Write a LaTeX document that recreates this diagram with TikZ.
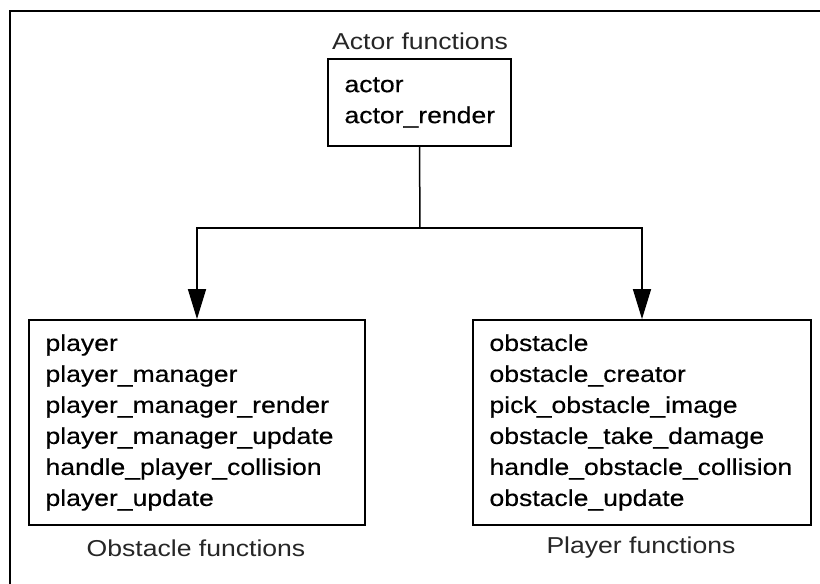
\documentclass[tikz,border=0pt]{standalone}
\usepackage{fontspec}
\setmainfont{Liberation Sans}[FakeStretch=1.155]
\newfontfamily\boxfont{Liberation Sans}[FakeStretch=1.155, FakeBold=0.4]
\usetikzlibrary{arrows.meta}
\tikzset{
  funcbox/.style={draw, line width=1.8pt, inner xsep=16.5pt, align=left, font=\boxfont\fontsize{23}{31}\selectfont},
  grouplbl/.style={text=black!85, font=\fontsize{23}{26}\selectfont},
  link/.style={line width=1.5pt}
}
\begin{document}
\begin{tikzpicture}[>={Triangle[width=18pt,length=30pt]}, x=1pt, y=-1pt]
  \useasboundingbox (0,0) rectangle (820,584);
  \fill[white] (0,0) rectangle (820,584);
  % outer frame
  \draw[line width=2pt] (10,590) -- (10,11) -- (830,11);
  % boxes
  \node[funcbox, text width=150pt, minimum height=87pt] (actor) at (419.5,102.5) {actor\\actor\_render};
  \node[funcbox, text width=303pt, minimum height=205pt] (obst) at (197,422.5) {player\\player\_manager\\player\_manager\_render\\player\_manager\_update\\handle\_player\_collision\\player\_update};
  \node[funcbox, text width=305pt, minimum height=205pt] (play) at (642,422.5) {obstacle\\obstacle\_creator\\pick\_obstacle\_image\\obstacle\_take\_damage\\handle\_obstacle\_collision\\obstacle\_update};
  % labels
  \node[grouplbl] (actorlbl) at (420,41) {Actor functions};
  \node[grouplbl] (obstlbl) at (196,548) {Obstacle functions};
  \node[grouplbl] (playlbl) at (641,548) {Player functions};
  % connectors
  \coordinate (split) at (420,228);
  \draw[link] (actor.south) -- (split);
  \draw[link, ->] (split) -| (obst.north);
  \draw[link, ->] (split) -| (play.north);
\end{tikzpicture}
\end{document}
